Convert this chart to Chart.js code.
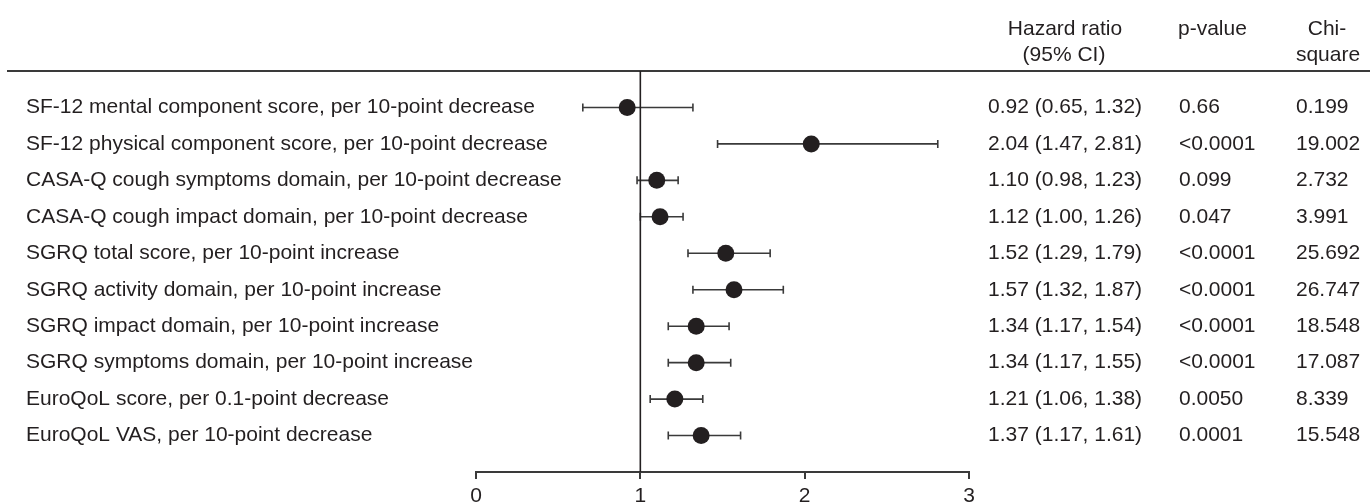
<!DOCTYPE html>
<html>
<head>
<meta charset="utf-8">
<script src="https://cdn.jsdelivr.net/npm/chart.js@4/dist/chart.umd.min.js"></script>
<style>
  html, body { margin: 0; padding: 0; background: #ffffff; }
  #wrap { width: 1370px; height: 504px; position: relative; }
</style>
</head>
<body>
<div id="wrap"><canvas id="c" width="1370" height="504"></canvas></div>
<script>
// ---- data ----
const categories = [
  'SF-12 mental component score, per 10-point decrease',
  'SF-12 physical component score, per 10-point decrease',
  'CASA-Q cough symptoms domain, per 10-point decrease',
  'CASA-Q cough impact domain, per 10-point decrease',
  'SGRQ total score, per 10-point increase',
  'SGRQ activity domain, per 10-point increase',
  'SGRQ impact domain, per 10-point increase',
  'SGRQ symptoms domain, per 10-point increase',
  'EuroQoL score, per 0.1-point decrease',
  'EuroQoL VAS, per 10-point decrease'
];
const hazardRatio = [0.92, 2.04, 1.10, 1.12, 1.52, 1.57, 1.34, 1.34, 1.21, 1.37];
const ciLower     = [0.65, 1.47, 0.98, 1.00, 1.29, 1.32, 1.17, 1.17, 1.06, 1.17];
const ciUpper     = [1.32, 2.81, 1.23, 1.26, 1.79, 1.87, 1.54, 1.55, 1.38, 1.61];
const pValues     = ['0.66', '<0.0001', '0.099', '0.047', '<0.0001', '<0.0001', '<0.0001', '<0.0001', '0.0050', '0.0001'];
const chiSquare   = ['0.199', '19.002', '2.732', '3.991', '25.692', '26.747', '18.548', '17.087', '8.339', '15.548'];
const xTicks      = [0, 1, 2, 3];
const headers     = { hr: ['Hazard ratio', '(95% CI)'], p: 'p-value', chi: ['Chi-', 'square'] };

// ---- styling ----
const INK = '#231f20';
const LINE = '#3a3a3a';
const FONT = '"Liberation Sans", Arial, Helvetica, sans-serif';
const FS = 21;

const hrText = hazardRatio.map((v, i) => v.toFixed(2) + ' (' + ciLower[i].toFixed(2) + ', ' + ciUpper[i].toFixed(2) + ')');

const forestPlugin = {
  id: 'forest',
  beforeDatasetsDraw(chart) {
    const ctx = chart.ctx;
    const xs = chart.scales.x, ys = chart.scales.y;
    ctx.save();
    // header rule
    const yTop = ys.getPixelForValue(-1);
    ctx.strokeStyle = LINE;
    ctx.lineWidth = 2;
    ctx.beginPath();
    ctx.moveTo(7, yTop);
    ctx.lineTo(1370, yTop);
    ctx.stroke();
    // error bars
    ctx.strokeStyle = LINE;
    ctx.lineWidth = 1.6;
    hazardRatio.forEach((v, i) => {
      const y = ys.getPixelForValue(i);
      const x1 = xs.getPixelForValue(ciLower[i]);
      const x2 = xs.getPixelForValue(ciUpper[i]);
      ctx.beginPath();
      ctx.moveTo(x1, y); ctx.lineTo(x2, y);
      ctx.moveTo(x1, y - 4); ctx.lineTo(x1, y + 4);
      ctx.moveTo(x2, y - 4); ctx.lineTo(x2, y + 4);
      ctx.stroke();
    });
    ctx.restore();
  },
  afterDraw(chart) {
    const ctx = chart.ctx;
    const ys = chart.scales.y;
    ctx.save();
    ctx.fillStyle = INK;
    ctx.font = FS + 'px ' + FONT;
    // headers
    ctx.textBaseline = 'alphabetic';
    ctx.textAlign = 'center';
    ctx.fillText(headers.hr[0], 1065, 35);
    ctx.fillText(headers.hr[1], 1064, 61);
    ctx.fillText(headers.chi[0], 1327, 35);
    ctx.fillText(headers.chi[1], 1328, 61);
    ctx.textAlign = 'left';
    ctx.fillText(headers.p, 1178, 35);
    // rows
    ctx.textBaseline = 'middle';
    categories.forEach((label, i) => {
      const y = ys.getPixelForValue(i);
      ctx.textAlign = 'left';
      ctx.fillText(label, 26, y);
      ctx.fillText(hrText[i], 988, y);
      ctx.fillText(pValues[i], 1179, y);
      ctx.fillText(chiSquare[i], 1296, y);
    });
    ctx.restore();
  }
};

new Chart(document.getElementById('c'), {
  type: 'scatter',
  data: {
    datasets: [
      {
        type: 'line',
        data: [{ x: 1, y: -1 }, { x: 1, y: categories.length }],
        borderColor: INK,
        borderWidth: 1.6,
        pointRadius: 0,
        fill: false,
        order: 2
      },
      {
        data: hazardRatio.map((v, i) => ({ x: v, y: i })),
        backgroundColor: INK,
        borderColor: INK,
        borderWidth: 0,
        pointRadius: 8.5,
        pointHoverRadius: 8.5,
        order: 1
      }
    ]
  },
  options: {
    responsive: false,
    animation: false,
    events: [],
    layout: { padding: { left: 476, right: 401, top: 71, bottom: 0 } },
    plugins: { legend: { display: false }, tooltip: { enabled: false } },
    scales: {
      x: {
        type: 'linear',
        min: xTicks[0],
        max: xTicks[xTicks.length - 1],
        afterBuildTicks(scale) { scale.ticks = xTicks.map(v => ({ value: v })); },
        afterFit(scale) { scale.height = 32; },
        border: { display: true, color: LINE, width: 2 },
        grid: { drawOnChartArea: false, drawTicks: true, tickLength: 7, color: LINE, lineWidth: 2 },
        ticks: { color: INK, padding: 5, font: { family: FONT, size: FS }, maxRotation: 0 }
      },
      y: {
        type: 'linear',
        display: false,
        reverse: true,
        min: -1,
        max: categories.length
      }
    }
  },
  plugins: [forestPlugin]
});
</script>
</body>
</html>
